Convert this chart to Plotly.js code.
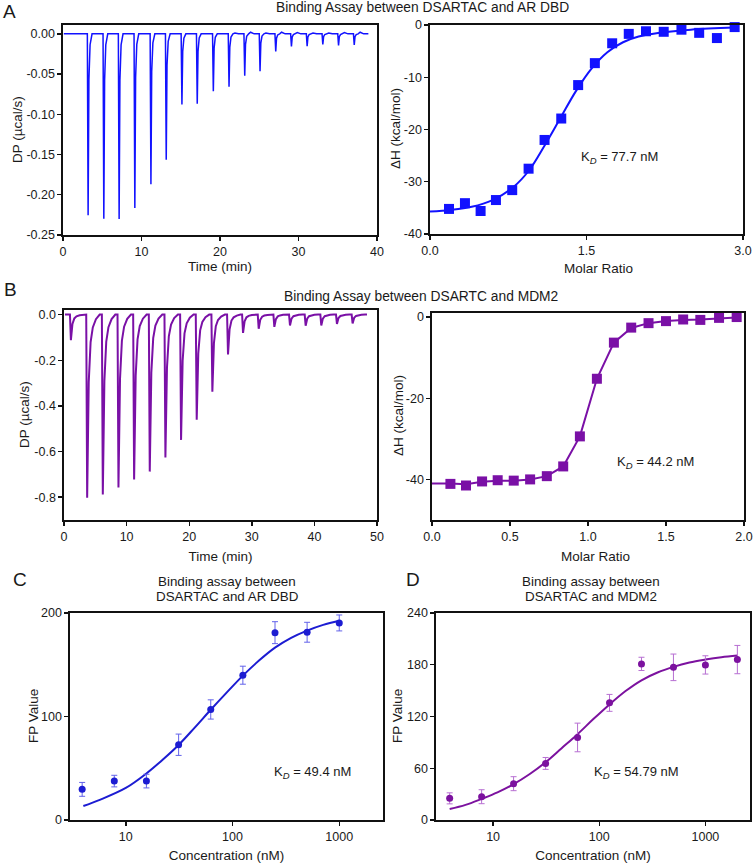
<!DOCTYPE html>
<html>
<head>
<meta charset="utf-8">
<script src="https://cdn.plot.ly/plotly-3.0.1.min.js"></script>
<style>html,body{margin:0;padding:0;background:#fff;}#chart{width:754px;height:863px;}</style>
</head>
<body>
<div id="chart"></div>
<script>
// ---------- DATA ----------
// Panel A (left): ITC thermogram, DSARTAC into AR DBD
const aInjTime = [3.2, 5.2, 7.15, 9.15, 11.2, 13.15, 15.15, 17.1, 19.15, 21.15, 23.15, 25.1, 27.1, 29.1, 31.1, 33.1, 35.1, 37.1];
const aInjPeak = [-0.2256, -0.2297, -0.2300, -0.2165, -0.1870, -0.1565, -0.0877, -0.0869, -0.0712, -0.0658, -0.0522, -0.0464, -0.0219, -0.0157, -0.0153, -0.0132, -0.0145, -0.0137];
const aOvershoot = [0, 0, 0, 0, 0, 0, 0, 0, 0, 0.001, 0.002, 0.001, 0.002, 0.0015, 0.001, 0.001, 0.0015, 0.002];
const aRunStart = 0.1, aRunEnd = 38.9;

// Panel A (right): integrated heats
const aRatio = [0.182, 0.335, 0.485, 0.632, 0.788, 0.945, 1.098, 1.258, 1.42, 1.58, 1.746, 1.905, 2.07, 2.24, 2.41, 2.58, 2.75, 2.92];
const aDH = [-35.2, -34.1, -35.6, -33.5, -31.6, -27.5, -22.0, -17.9, -11.5, -7.3, -3.5, -1.7, -1.2, -1.3, -0.9, -1.5, -2.5, -0.4];
const aFitX = [0, 0.2, 0.4, 0.6, 0.8, 0.95, 1.1, 1.25, 1.4, 1.55, 1.7, 1.85, 2.0, 2.2, 2.5, 2.92];
const aFitY = [-35.7, -35.4, -34.8, -33.5, -31.0, -27.8, -23.0, -17.8, -12.6, -8.3, -5.2, -3.3, -2.2, -1.5, -0.9, -0.5];

// Panel B (left): ITC thermogram, DSARTC into MDM2
const bInjTime = [1.1, 3.7, 6.2, 8.7, 11.2, 13.7, 16.2, 18.7, 21.2, 23.7, 26.2, 28.6, 31.1, 33.6, 36.1, 38.6, 41.1, 43.6, 46.1];
const bInjPeak = [-0.112, -0.803, -0.788, -0.758, -0.723, -0.688, -0.626, -0.549, -0.461, -0.338, -0.175, -0.080, -0.062, -0.054, -0.048, -0.049, -0.048, -0.041, -0.039];
const bRunStart = 0.15, bRunEnd = 48.4;

// Panel B (right): integrated heats
const bRatio = [0.118, 0.218, 0.321, 0.421, 0.524, 0.629, 0.736, 0.841, 0.948, 1.057, 1.166, 1.277, 1.388, 1.5, 1.61, 1.72, 1.84, 1.953];
const bDH = [-41.1, -41.5, -40.5, -40.2, -40.3, -40.0, -39.2, -36.8, -29.4, -15.2, -6.3, -2.6, -1.5, -1.0, -0.6, -0.7, -0.2, 0.0];
const bFitX = [0, 0.118, 0.218, 0.321, 0.421, 0.524, 0.629, 0.736, 0.841, 0.948, 1.057, 1.166, 1.277, 1.388, 1.5, 1.61, 1.72, 1.84, 1.953];
const bFitY = [-41.0, -41.0, -41.2, -40.6, -40.3, -40.3, -40.0, -39.2, -36.8, -29.4, -15.2, -6.3, -2.7, -1.5, -1.0, -0.7, -0.6, -0.3, -0.1];

// Panel C: FP, DSARTAC and AR DBD
const cConc = [3.9, 7.8, 15.6, 31.25, 62.5, 125, 250, 500, 1000];
const cFP = [29.6, 37.6, 37.6, 72.7, 106.8, 139.9, 181.0, 181.4, 190.4];
const cErr = [6.7, 5.6, 6.6, 10.3, 9.3, 8.7, 10.6, 9.6, 7.7];
const cFitX = [4, 5.7, 10, 15.6, 22, 31.25, 44, 62.5, 88, 125, 177, 250, 354, 500, 707, 1000];
const cFitY = [13.5, 19.5, 31, 45, 58, 72.5, 89, 106.5, 123, 139.5, 154, 166.5, 176, 183, 188.5, 192.5];

// Panel D: FP, DSARTAC and MDM2
const dConc = [3.9, 7.8, 15.6, 31.25, 62.5, 125, 250, 500, 1000, 2000];
const dFP = [25.1, 27.0, 42.1, 65.6, 95.7, 135.8, 181.0, 177.0, 179.8, 186.0];
const dErr = [6.4, 8.1, 8.1, 6.9, 16.6, 9.8, 7.7, 15.4, 10.6, 16.4];
const dFitX = [3.9, 5.5, 7.8, 11, 15.6, 22, 31.25, 44, 62.5, 88, 125, 177, 250, 354, 500, 707, 1000, 1414, 2000];
const dFitY = [12.7, 17.5, 24.5, 32, 41.5, 53, 67, 83, 99.5, 117, 134, 149.5, 162, 171, 177.5, 182.5, 186, 188.8, 190.8];

// Tick labels
const aLeftYTicks = [0, -0.05, -0.10, -0.15, -0.20, -0.25];
const aLeftYText = ['0.00', '-0.05', '-0.10', '-0.15', '-0.20', '-0.25'];
const aRightYTicks = [0, -10, -20, -30, -40];
const aRightYText = ['0', '-10', '-20', '-30', '-40'];
const aRightXTicks = [0, 1.5, 3.0];
const aRightXText = ['0.0', '1.5', '3.0'];
const bLeftYTicks = [0, -0.2, -0.4, -0.6, -0.8];
const bLeftYText = ['0.0', '-0.2', '-0.4', '-0.6', '-0.8'];
const bRightYTicks = [0, -20, -40];
const bRightYText = ['0', '-20', '-40'];
const bRightXTicks = [0, 0.5, 1.0, 1.5, 2.0];
const bRightXText = ['0.0', '0.5', '1.0', '1.5', '2.0'];
const concTicks = [10, 100, 1000];
const concText = ['10', '100', '1000'];

// ---------- STYLE ----------
const W = 754, H = 863;
const FONT = "Arial, 'Liberation Sans', sans-serif";
const colA = '#1212ff', colB = '#7a10a6', colC = '#1c1cd2', colCerr = '#6262ea', colD = '#7c129f', colDerr = '#b76fd2';
const px = v => v / W, py = v => 1 - v / H;

// Thermogram line from injection peaks (spike drawing profile)
function thermo(times, peaks, offs, fracs, over, t0, t1) {
  const x = [t0], y = [0];
  times.forEach((t, i) => {
    offs.forEach((o, j) => { x.push(t + o); y.push(peaks[i] * fracs[j]); });
    if (over) { x.push(t + 0.75); y.push(over[i]); x.push(t + 1.2); y.push(0); }
  });
  x.push(t1); y.push(0);
  return {x, y};
}
const aTh = thermo(aInjTime, aInjPeak, [-0.1, 0, 0.1, 0.25, 0.5], [0, 1, 0.25, 0.06, 0], aOvershoot, aRunStart, aRunEnd);
const bTh = thermo(bInjTime, bInjPeak, [-0.15, 0, 0.25, 0.55, 0.9, 1.4, 2.0], [0, 1, 0.37, 0.15, 0.07, 0.025, 0], null, bRunStart, bRunEnd);

const traces = [
  {x: aTh.x, y: aTh.y, xaxis: 'x', yaxis: 'y', mode: 'lines', line: {color: colA, width: 1.5}},
  {x: aFitX, y: aFitY, xaxis: 'x2', yaxis: 'y2', mode: 'lines', line: {color: colA, width: 2, shape: 'spline'}},
  {x: aRatio, y: aDH, xaxis: 'x2', yaxis: 'y2', mode: 'markers', marker: {symbol: 'square', size: 10, color: colA}, cliponaxis: false},
  {x: bTh.x, y: bTh.y, xaxis: 'x3', yaxis: 'y3', mode: 'lines', line: {color: colB, width: 2}},
  {x: bFitX, y: bFitY, xaxis: 'x4', yaxis: 'y4', mode: 'lines', line: {color: colB, width: 2}},
  {x: bRatio, y: bDH, xaxis: 'x4', yaxis: 'y4', mode: 'markers', marker: {symbol: 'square', size: 10, color: colB}, cliponaxis: false},
  {x: cFitX, y: cFitY, xaxis: 'x5', yaxis: 'y5', mode: 'lines', line: {color: colC, width: 2, shape: 'spline'}},
  {x: cConc, y: cFP, xaxis: 'x5', yaxis: 'y5', mode: 'markers', marker: {size: 7, color: colC},
   error_y: {type: 'data', array: cErr, color: colCerr, thickness: 1, width: 3}},
  {x: dFitX, y: dFitY, xaxis: 'x6', yaxis: 'y6', mode: 'lines', line: {color: colD, width: 2, shape: 'spline'}},
  {x: dConc, y: dFP, xaxis: 'x6', yaxis: 'y6', mode: 'markers', marker: {size: 7, color: colD},
   error_y: {type: 'data', array: dErr, color: colDerr, thickness: 1, width: 3}}
];

const tickFont = {family: FONT, size: 12.5, color: '#1a1a1a'};
const titleFont = {family: FONT, size: 13.5, color: '#1a1a1a'};
function ax(domain, range, extra, title, standoff) {
  const o = Object.assign({
    domain, range, showgrid: false, zeroline: false, showline: true, mirror: true,
    linecolor: '#111', linewidth: 1.6, ticks: 'outside', ticklen: 4, tickwidth: 1.4, tickcolor: '#111',
    tickfont: tickFont, fixedrange: true
  }, extra);
  if (title) o.title = {text: title, font: titleFont, standoff: standoff};
  return o;
}

const layout = {
  width: W, height: H, margin: {l: 0, r: 0, t: 0, b: 0},
  paper_bgcolor: '#fff', plot_bgcolor: '#fff', showlegend: false,
  font: {family: FONT, color: '#1a1a1a'},
  xaxis:  ax([px(63), px(377)], [0, 40], {anchor: 'y', dtick: 10, tick0: 0}, 'Time (min)', 0),
  yaxis:  ax([py(235), py(25)], [-0.25, 0.011], {anchor: 'x', tickvals: aLeftYTicks, ticktext: aLeftYText}),
  xaxis2: ax([px(430), px(743)], [0, 3.0], {anchor: 'y2', tickvals: aRightXTicks, ticktext: aRightXText}),
  yaxis2: ax([py(234), py(25)], [-40, 0], {anchor: 'x2', tickvals: aRightYTicks, ticktext: aRightYText}),
  xaxis3: ax([px(64), px(377)], [0, 50], {anchor: 'y3', dtick: 10, tick0: 0}, 'Time (min)', 9),
  yaxis3: ax([py(520), py(310)], [-0.9, 0.02], {anchor: 'x3', tickvals: bLeftYTicks, ticktext: bLeftYText}),
  xaxis4: ax([px(432), px(744)], [0, 2.0], {anchor: 'y4', tickvals: bRightXTicks, ticktext: bRightXText}),
  yaxis4: ax([py(520), py(313)], [-50, 1], {anchor: 'x4', tickvals: bRightYTicks, ticktext: bRightYText}),
  xaxis5: ax([px(70), px(383)], [Math.log10(3), Math.log10(2570)], {anchor: 'y5', type: 'log', tickvals: concTicks, ticktext: concText}, 'Concentration (nM)', 8),
  yaxis5: ax([py(820), py(613)], [0, 200], {anchor: 'x5', tickvals: [0, 100, 200]}),
  xaxis6: ax([px(436), px(750)], [Math.log10(2.9), Math.log10(2630)], {anchor: 'y6', type: 'log', tickvals: concTicks, ticktext: concText}, 'Concentration (nM)', 8),
  yaxis6: ax([py(820), py(613)], [0, 240], {anchor: 'x6', tickvals: [0, 60, 120, 180, 240]}),
  annotations: []
};

function note(text, x, y, size, extra) {
  layout.annotations.push(Object.assign({text, x: px(x), y: py(y), xref: 'paper', yref: 'paper',
    xanchor: 'center', yanchor: 'middle', showarrow: false, font: {family: FONT, size: size, color: '#1a1a1a'}}, extra || {}));
}
// axis titles placed by hand
note('DP (µcal/s)', 17, 130, 13.5, {textangle: -90});
note('ΔH (kcal/mol)', 395, 129, 13.5, {textangle: -90});
note('DP (µcal/s)', 25, 415, 13.5, {textangle: -90});
note('ΔH (kcal/mol)', 398, 416, 13.5, {textangle: -90});
note('FP Value', 33, 716, 13.5, {textangle: -90});
note('FP Value', 397, 716, 13.5, {textangle: -90});
note('Molar Ratio', 598, 269, 13.5);
note('Molar Ratio', 595, 556, 13.5);
// panel letters and titles
note('A', 9, 12, 19);
note('B', 10, 289, 19);
note('C', 20, 579, 19);
note('D', 413, 579, 19);
note('Binding Assay between DSARTAC and AR DBD', 422, 7, 13.8);
note('Binding Assay between DSARTC and MDM2', 421, 296, 13.8);
note('Binding assay between', 227, 581, 13.4);
note('DSARTAC and AR DBD', 227, 596, 13.4);
note('Binding assay between', 591, 581, 13.4);
note('DSARTAC and MDM2', 591, 596, 13.4);
// K_D labels: subscript italic D drawn with an inline styled span
const kdSub = 'K<span style="font-size:9.5px;font-style:italic;baseline-shift:-3px">D</span>';
note(kdSub + ' = 77.7 nM', 619, 157, 13);
note(kdSub + ' = 44.2 nM', 655, 462, 13);
note(kdSub + ' = 49.4 nM', 312, 772, 13);
note(kdSub + ' = 54.79 nM', 636, 772, 13);

Plotly.newPlot('chart', traces, layout, {displayModeBar: false, staticPlot: true});
</script>
</body>
</html>
